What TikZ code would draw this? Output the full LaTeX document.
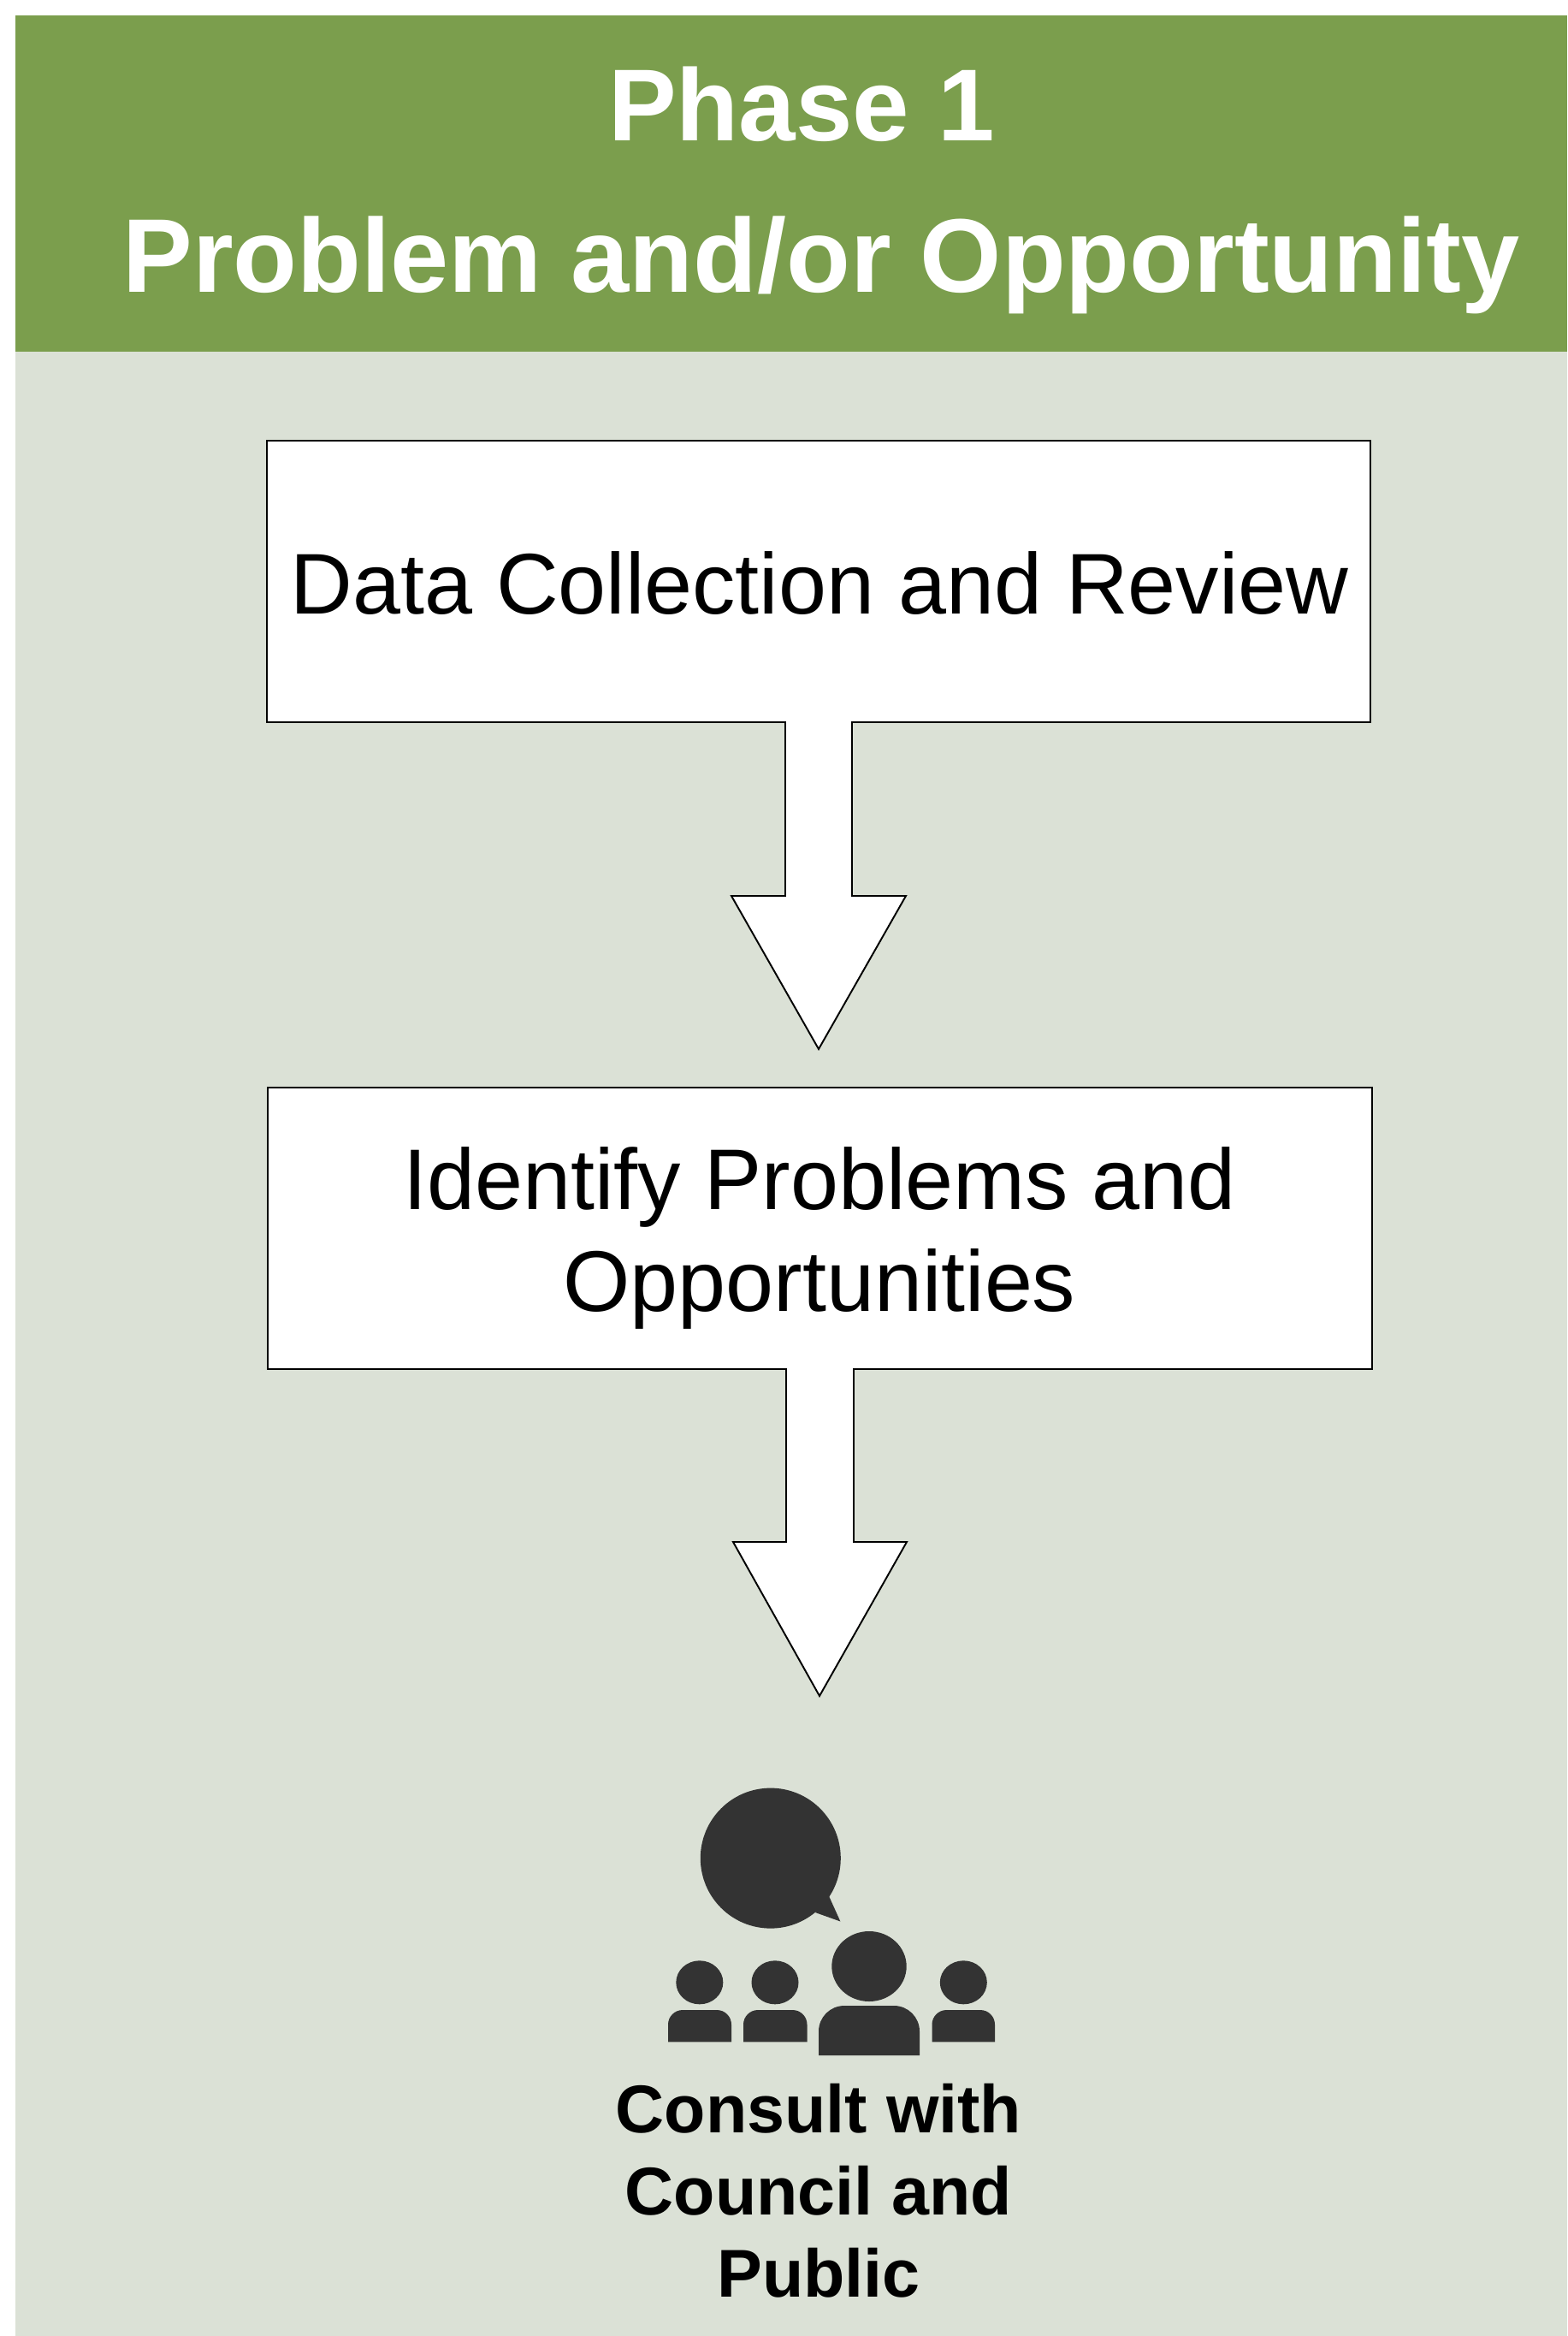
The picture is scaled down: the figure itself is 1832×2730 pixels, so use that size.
\documentclass[tikz,border=0pt]{standalone}
\usepackage{fontspec}
\setmainfont{Liberation Sans}
\definecolor{hdrgreen}{HTML}{7B9E4D}
\definecolor{panelgrey}{HTML}{DBE1D6}
\definecolor{icondark}{HTML}{333333}
\tikzset{
  callout/.style={draw=black,fill=white,line width=1.1pt,line join=miter},
  icon/.style={fill=icondark,draw=none},
  titletext/.style={text=white,font=\bfseries\fontsize{69.7}{70}\selectfont,inner sep=0pt,anchor=base},
  boxtext/.style={text=black,font=\fontsize{57.3}{67.7}\selectfont,inner sep=0pt,align=center},
  consulttext/.style={text=black,font=\bfseries\fontsize{45}{54.6}\selectfont,inner sep=0pt,align=center}
}
\begin{document}
\begin{tikzpicture}[x=0.02cm,y=-0.02cm]
\useasboundingbox (0,0) rectangle (1832,2730);
\fill[white] (0,0) rectangle (1832,2730);
\fill[panelgrey] (18,411) rectangle (1832,2730);
\fill[hdrgreen] (18,18) rectangle (1832,411);
\node[titletext,font=\bfseries\fontsize{68}{70}\selectfont] (title1) at (937,165) {Phase 1};
\node[titletext] (title2) at (960,342) {Problem and/or Opportunity};
% first box with arrow
\draw[callout] (312,515) -- (1602,515) -- (1602,844) -- (996,844) -- (996,1047) -- (1059,1047)
  -- (957,1226) -- (855,1047) -- (918,1047) -- (918,844) -- (312,844) -- cycle;
\node[boxtext] (datatext) at (958,682) {Data Collection and Review};
% second box with arrow
\draw[callout] (313,1271) -- (1604,1271) -- (1604,1600) -- (998,1600) -- (998,1802) -- (1060,1802)
  -- (958,1982) -- (857,1802) -- (919,1802) -- (919,1600) -- (313,1600) -- cycle;
\node[boxtext] (identtext) at (958,1447) {Identify Problems and\\Opportunities};
% icon
\fill[icon] (900.8,2171.6) circle (82);
\fill[icon] (968.6,2215) -- (982.4,2245.5) -- (953,2235) -- cycle;
\fill[icon] (817.8,2316.8) ellipse (27.5 and 25.5);
\fill[icon] (906,2316.8) ellipse (27.5 and 25.5);
\fill[icon] (1126.3,2316.8) ellipse (27.5 and 25.5);
\fill[icon] (1016,2298) ellipse (43.7 and 41);
\fill[icon] (781,2386.4) -- (781,2366) arc[start angle=180,end angle=270,radius=17] -- (838,2349) arc[start angle=270,end angle=360,radius=17] -- (855,2386.4) -- cycle;
\fill[icon] (869,2386.4) -- (869,2366) arc[start angle=180,end angle=270,radius=17] -- (926.5,2349) arc[start angle=270,end angle=360,radius=17] -- (943.5,2386.4) -- cycle;
\fill[icon] (1089.5,2386.4) -- (1089.5,2366) arc[start angle=180,end angle=270,radius=17] -- (1146,2349) arc[start angle=270,end angle=360,radius=17] -- (1163,2386.4) -- cycle;
\fill[icon] (957,2402) -- (957,2374) arc[start angle=180,end angle=270,radius=30] -- (1045,2344) arc[start angle=270,end angle=360,radius=30] -- (1075,2402) -- cycle;
\node[consulttext] (consult) at (957,2560) {Consult with\\Council and\\Public};
\end{tikzpicture}
\end{document}
